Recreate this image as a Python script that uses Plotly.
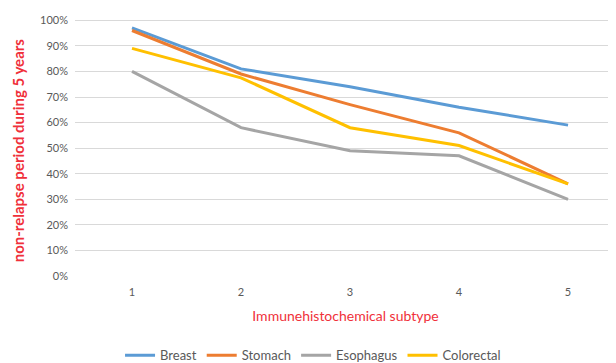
import plotly.graph_objects as go

categories = [1, 2, 3, 4, 5]
breast = [97, 81, 74, 66, 59]
stomach = [96, 79, 67, 56, 36]
esophagus = [80, 58, 49, 47, 30]
colorectal = [89, 77.5, 58, 51, 36]
y_ticks = [0, 10, 20, 30, 40, 50, 60, 70, 80, 90, 100]
y_tick_labels = [f"{v}%" for v in y_ticks]

series = [
    ("Breast", breast, "#5B9BD5"),
    ("Stomach", stomach, "#ED7D31"),
    ("Esophagus", esophagus, "#A5A5A5"),
    ("Colorectal", colorectal, "#FFC000"),
]

fig = go.Figure()
for name, vals, col in series:
    fig.add_trace(go.Scatter(x=categories, y=vals, mode="lines", name=name,
                             line=dict(color=col, width=3)))

# page body has an 8px default margin, so the figure is 8px smaller
fig.update_layout(
    width=608, height=355,
    margin=dict(l=67, r=0, t=11, b=87, autoexpand=False),
    paper_bgcolor="white", plot_bgcolor="white",
    font=dict(family="Lato, Liberation Sans, sans-serif", size=11, color="#595959"),
    showlegend=True,
    legend=dict(orientation="h", x=0.44, xanchor="center", y=-0.25, yanchor="top",
                font=dict(size=13, color="#595959"), itemwidth=30,
                tracegroupgap=0),
    xaxis=dict(range=[0.477, 5.44], tickvals=categories, ticktext=[str(c) for c in categories],
               showgrid=False, zeroline=False, showline=False, ticks="",
               ticklabelstandoff=8, automargin=False,
               title=dict(text="Immunehistochemical subtype", standoff=14,
                          font=dict(size=14, color="#F0303A"))),
    yaxis=dict(range=[0, 100.5], tickvals=y_ticks, ticktext=y_tick_labels,
               showgrid=True, gridcolor="#D9D9D9", gridwidth=1, zeroline=False,
               ticks="", ticklen=0, ticklabelstandoff=6, automargin=False),
    annotations=[dict(text="<b>non-relapse period during 5 years</b>", textangle=-90,
                      xref="paper", yref="paper", x=-0.105, y=0.49,
                      xanchor="center", yanchor="middle", showarrow=False,
                      font=dict(size=15, color="#F0303A"))],
)

fig.write_html("out.html")
